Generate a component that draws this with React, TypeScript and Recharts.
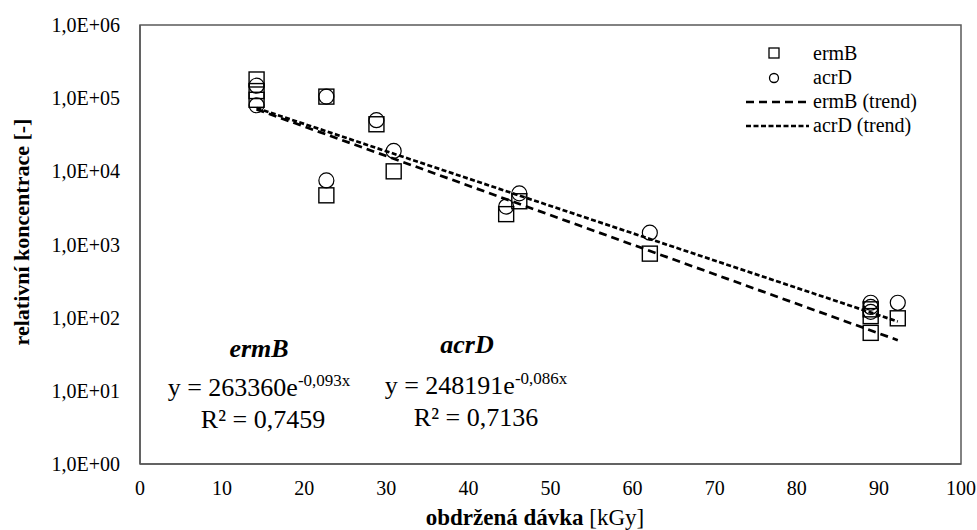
import {
  ComposedChart,
  ReferenceArea,
  Scatter,
  XAxis,
  YAxis,
} from "recharts";

const ermbDose = [14.2, 14.2, 14.2, 22.7, 22.7, 28.8, 30.9, 44.6, 46.2, 62.1, 89, 89, 89, 92.3];
const ermbConc = [180000, 125000, 95000, 105000, 4700, 44000, 10000, 2600, 3900, 750, 130, 105, 62, 98];
const acrdDose = [14.2, 14.2, 22.7, 22.7, 28.8, 30.9, 44.6, 46.2, 62.1, 89, 89, 89, 92.3];
const acrdConc = [148000, 80000, 105000, 7500, 50000, 19000, 3300, 5000, 1450, 160, 140, 120, 160];

// exponential fits shown on the chart: y = a * e^(b x)
const ermbFit = { a: 263360, b: -0.093 };
const acrdFit = { a: 248191, b: -0.086 };
const trendRange = [14.2, 92.3];

const xTicks = [0, 10, 20, 30, 40, 50, 60, 70, 80, 90, 100];
const yTicks = [1, 10, 100, 1000, 10000, 100000, 1000000];

const FONT = "Liberation Serif, Times New Roman, Tinos, serif";
const INK = "#000";
const FRAME = "#595959";
const ERMB_DASH = "8 5";
const ACRD_DASH = "5 2.5";

const ermbData = ermbDose.map((x, i) => ({ x, y: ermbConc[i] }));
const acrdData = acrdDose.map((x, i) => ({ x, y: acrdConc[i] }));
const ermbTrend = trendRange.map((x) => ({ x, y: ermbFit.a * Math.exp(ermbFit.b * x) }));
const acrdTrend = trendRange.map((x) => ({ x, y: acrdFit.a * Math.exp(acrdFit.b * x) }));

function formatSci(v: number): string {
  const exp = Math.round(Math.log10(v));
  return `1,0E+${String(exp).padStart(2, "0")}`;
}

const SquareMark = (props: any) => {
  const { cx, cy } = props;
  if (cx == null || cy == null) return <g />;
  return <rect x={cx - 7.5} y={cy - 7.5} width={15} height={15} fill="none" stroke={INK} strokeWidth={1.4} />;
};

const CircleMark = (props: any) => {
  const { cx, cy } = props;
  if (cx == null || cy == null) return <g />;
  return <circle cx={cx} cy={cy} r={7.5} fill="none" stroke={INK} strokeWidth={1.2} />;
};

const NoMark = () => <g />;

function Overlay() {
  return (
    <svg
      width={977}
      height={530}
      style={{ position: "absolute", left: 0, top: 0, pointerEvents: "none", fontFamily: FONT }}
      fill={INK}
    >
      {/* legend */}
      <g fontSize={20}>
        <rect x={769} y={48} width={10} height={10} fill="none" stroke={INK} strokeWidth={1.3} />
        <text x={813} y={60}>ermB</text>
        <circle cx={774} cy={78} r={4.5} fill="none" stroke={INK} strokeWidth={1.3} />
        <text x={813} y={84}>acrD</text>
        <line x1={746} x2={809} y1={102} y2={102} stroke={INK} strokeWidth={2.6} strokeDasharray={ERMB_DASH} />
        <text x={813} y={108}>ermB (trend)</text>
        <line x1={746} x2={809} y1={126} y2={126} stroke={INK} strokeWidth={2.6} strokeDasharray={ACRD_DASH} />
        <text x={813} y={132}>acrD (trend)</text>
      </g>

      {/* fit annotations */}
      <g fontSize={26} textAnchor="middle">
        <text x={259} y={357} fontWeight="bold" fontStyle="italic">ermB</text>
        <text x={259} y={396}>
          y = 263360e<tspan fontSize={17} dy={-10}>-0,093x</tspan>
        </text>
        <text x={263} y={428}>R² = 0,7459</text>

        <text x={467} y={353} fontWeight="bold" fontStyle="italic">acrD</text>
        <text x={476} y={394}>
          y = 248191e<tspan fontSize={17} dy={-10}>-0,086x</tspan>
        </text>
        <text x={476} y={426}>R² = 0,7136</text>
      </g>

      {/* axis titles */}
      <text x={535} y={525} textAnchor="middle" fontSize={23}>
        <tspan fontWeight="bold">obdržená dávka </tspan>
        <tspan>[kGy]</tspan>
      </text>
      <text
        transform="translate(29 232) rotate(-90)"
        textAnchor="middle"
        fontSize={22}
        fontWeight="bold"
      >
        relativní koncentrace [-]
      </text>
    </svg>
  );
}

export default function App() {
  return (
    <div style={{ position: "absolute", left: 0, top: 0, width: 977, height: 530, background: "#fff" }}>
      <ComposedChart width={977} height={530} margin={{ top: 25, right: 16, bottom: 0, left: 0 }}>
        <XAxis
          dataKey="x"
          type="number"
          domain={[0, 100]}
          ticks={xTicks}
          allowDataOverflow
          height={66}
          tickSize={0}
          tickMargin={17}
          axisLine={{ stroke: FRAME, strokeWidth: 1.5 }}
          tick={{ fill: INK, fontSize: 20, fontFamily: FONT }}
        />
        <YAxis
          dataKey="y"
          type="number"
          scale="log"
          domain={[1, 1000000]}
          ticks={yTicks}
          allowDataOverflow
          width={140}
          tickSize={0}
          tickMargin={20}
          tickFormatter={formatSci}
          axisLine={{ stroke: FRAME, strokeWidth: 1.5 }}
          tick={{ fill: INK, fontSize: 20, fontFamily: FONT }}
        />
        <ReferenceArea x1={0} x2={100} y1={1} y2={1000000} fill="none" stroke={FRAME} strokeWidth={1.5} ifOverflow="visible" />
        <Scatter
          name="ermB (trend)"
          data={ermbTrend}
          shape={NoMark}
          line={{ stroke: INK, strokeWidth: 2.7, strokeDasharray: ERMB_DASH }}
          isAnimationActive={false}
        />
        <Scatter
          name="acrD (trend)"
          data={acrdTrend}
          shape={NoMark}
          line={{ stroke: INK, strokeWidth: 2.7, strokeDasharray: ACRD_DASH }}
          isAnimationActive={false}
        />
        <Scatter name="ermB" data={ermbData} shape={SquareMark} isAnimationActive={false} />
        <Scatter name="acrD" data={acrdData} shape={CircleMark} isAnimationActive={false} />
      </ComposedChart>
      <Overlay />
    </div>
  );
}
